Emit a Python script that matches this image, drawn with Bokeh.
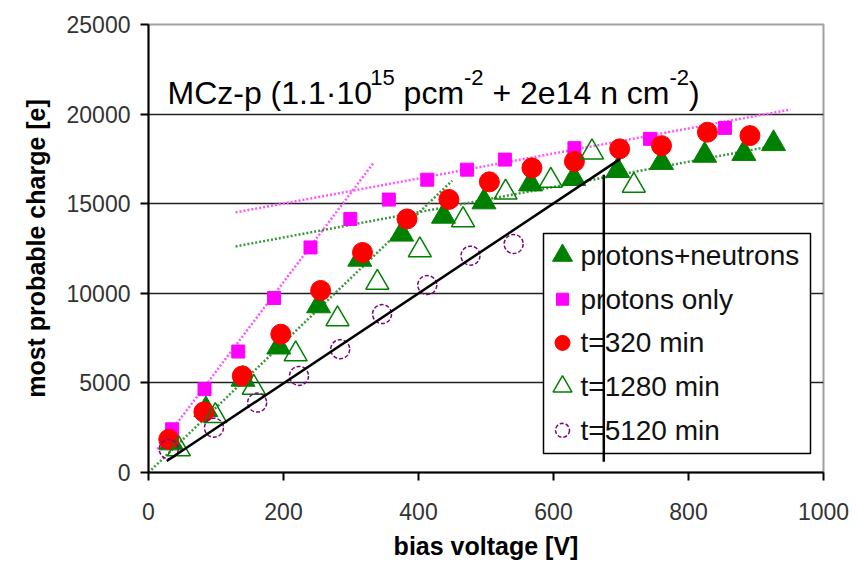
from bokeh.plotting import figure
from bokeh.models import Range1d, FixedTicker, Label
from bokeh.core.properties import value
from bokeh.embed import file_html
from bokeh.resources import INLINE

# ---------------- data ----------------
pn_v = [34, 85, 140, 193, 252, 313, 375, 437, 497, 566, 630, 695, 760, 824, 882, 926]
pn_q = [1650, 3500, 5200, 7000, 9300, 11900, 13300, 14300, 15100, 16100, 16400, 16850, 17300, 17700, 17800, 18350]

p_v = [35, 83, 133, 186, 240, 299, 356, 413, 472, 528, 631, 743, 854]
p_q = [2410, 4650, 6750, 9740, 12560, 14150, 15230, 16340, 16900, 17460, 18100, 18620, 19230]

t320_v = [30, 82, 139, 196, 255, 317, 383, 445, 505, 568, 631, 698, 760, 828, 891]
t320_q = [1850, 3380, 5390, 7720, 10160, 12280, 14150, 15240, 16220, 17000, 17360, 18060, 18240, 18990, 18800]

t1280_v = [45, 99, 156, 218, 280, 339, 402, 466, 529, 596, 657, 719]
t1280_q = [1300, 3160, 4740, 6600, 8560, 10600, 12410, 14090, 15630, 16290, 17870, 16010]

t5120_v = [30, 97, 161, 223, 284, 346, 413, 477, 541]
t5120_q = [1300, 2500, 3900, 5390, 6880, 8840, 10460, 12100, 12750]

# fit lines (endpoints)
p_steep_v = [13, 334]
p_steep_q = [1296, 17310]
p_flat_v = [129, 951]
p_flat_q = [14515, 20253]
pn_steep_v = [0, 450]
pn_steep_q = [0, 16290]
pn_flat_v = [129, 936]
pn_flat_q = [12616, 18300]

# black guide lines
diag_v = [27, 699]
diag_q = [640, 17500]
vert_v = [674.5, 674.5]
vert_q = [600, 16620]

x_ticks = [0, 200, 400, 600, 800, 1000]
y_ticks = [0, 5000, 10000, 15000, 20000, 25000]
grid_ticks = [5000, 10000, 15000, 20000]

labels = ["protons+neutrons", "protons only", "t=320 min", "t=1280 min", "t=5120 min"]

# ---------------- layout constants ----------------
FONT = "Liberation Sans"
FL, FT, FW, FH = 148, 24, 675, 448          # frame left/top/width/height (px)
XMAX, YMAX = 1000, 25000


def vx(px):   # screen x -> data x
    return (px - FL) * XMAX / FW


def qy(py):   # screen y -> data y
    return (FT + FH - py) * YMAX / FH


p = figure(frame_width=FW, frame_height=FH,
           min_border_left=FL, min_border_right=36,
           min_border_top=FT, min_border_bottom=98,
           x_range=Range1d(0, XMAX), y_range=Range1d(0, YMAX),
           output_backend="svg", toolbar_location=None)
p.background_fill_color = "white"
p.border_fill_color = "white"
p.outline_line_color = "#a0a0a0"
p.outline_line_width = 2

p.xgrid.grid_line_color = None
p.ygrid.ticker = FixedTicker(ticks=grid_ticks)
p.ygrid.grid_line_color = "#222222"
p.ygrid.grid_line_width = 1.5

for ax, ticks in ((p.xaxis[0], x_ticks), (p.yaxis[0], y_ticks)):
    ax.ticker = FixedTicker(ticks=ticks)
    ax.axis_line_color = "black"
    ax.axis_line_width = 2
    ax.major_tick_line_color = "black"
    ax.major_tick_line_width = 2
    ax.major_tick_out = 8
    ax.major_tick_in = 0
    ax.minor_tick_line_color = None
    ax.major_label_text_font = FONT
    ax.major_label_text_font_size = "23px"
    ax.major_label_text_color = "#333333"
    ax.axis_label_text_font = FONT
    ax.axis_label_text_font_style = "bold"
    ax.axis_label_text_font_size = "25px"
    ax.axis_label_text_color = "black"

p.xaxis.axis_label = "bias voltage [V]"
p.yaxis.axis_label = "most probable charge [e]"
p.xaxis.major_label_standoff = 22
p.yaxis.major_label_standoff = 10
p.xaxis.axis_label_standoff = 9
p.yaxis.axis_label_standoff = 14

# fit lines
pink_l = "#ff55ff"
green_l = "#3c963c"
for xs, ys, c in ((p_steep_v, p_steep_q, pink_l), (p_flat_v, p_flat_q, pink_l),
                  (pn_steep_v, pn_steep_q, green_l), (pn_flat_v, pn_flat_q, green_l)):
    p.line(xs, ys, line_color=c, line_width=2.5, line_dash="2 2")

# marker styles (shared by plot and legend)
styles = [
    dict(marker="triangle", fill_color="#008000", line_color="#008000"),
    dict(marker="square", fill_color="#ff00ff", line_color="#ff00ff"),
    dict(marker="circle", fill_color="#ff0000", line_color="#ff0000"),
    dict(marker="triangle", fill_color=None, line_color="#008000", line_width=1.5),
    dict(marker="circle", fill_color=None, line_color="#800080", line_width=1.5, line_dash="4 2"),
]
plot_sizes = [24, 13, 20, 23, 19]
legend_sizes = [20, 12, 15, 19, 14]
series = [(pn_v, pn_q), (p_v, p_q), (t320_v, t320_q), (t1280_v, t1280_q), (t5120_v, t5120_q)]

for (xs, ys), st, sz in zip(series, styles, plot_sizes):
    p.scatter(xs, ys, size=sz, **st)

# black diagonal guide line
p.line(diag_v, diag_q, line_color="black", line_width=2.5)

# legend box drawn as glyphs (so the vertical guide line can cross it)
LB_L, LB_R, LB_T, LB_B = 543, 810, 233, 453
ROW0, ROW_STEP = 255, 43.7
MARK_X, TEXT_X = 562, 580
p.quad(left=[vx(LB_L)], right=[vx(LB_R)], top=[qy(LB_T)], bottom=[qy(LB_B)],
       fill_color="white", line_color="black", line_width=1.5)
for i, (st, sz, lab) in enumerate(zip(styles, legend_sizes, labels)):
    ry = ROW0 + i * ROW_STEP
    p.scatter([vx(MARK_X)], [qy(ry)], size=sz, **st)
    p.text([vx(TEXT_X)], [qy(ry)], text=[lab], text_font=value(FONT),
           text_font_size="28px", text_color="#111111",
           text_baseline="middle", text_align="left")

# vertical guide line (over the legend)
p.line(vert_v, vert_q, line_color="black", line_width=2.5)

# title (rich text composed from pieces)
W = {'M': 833, 'C': 722, 'z': 500, '-': 333, 'p': 556, ' ': 278, '(': 333, '1': 556,
     '.': 278, '·': 278, '0': 556, '5': 556, 'c': 500, 'm': 833, '+': 584, '2': 556,
     'e': 556, '4': 556, 'n': 556, ')': 333}
segments = [("MCz-p (1.1·10", 32, 0), ("15", 22, 15), (" pcm", 32, 0), ("-2", 22, 15),
            (" + 2e14 n cm", 32, 0), ("-2", 22, 15), (")", 32, 0)]
x0, base = 19, 380
for txt, size, rise in segments:
    stripped = txt.lstrip(" ")
    x0 += (len(txt) - len(stripped)) * W[' '] * size / 1000.0
    p.add_layout(Label(x=x0, y=base + rise, x_units="screen", y_units="screen",
                       text=stripped, text_font=FONT, text_font_size=f"{size}px",
                       text_color="black", text_baseline="alphabetic", text_align="left"))
    x0 += sum(W[c] for c in stripped) * size / 1000.0

open("out.html", "w").write(file_html(p, INLINE))
